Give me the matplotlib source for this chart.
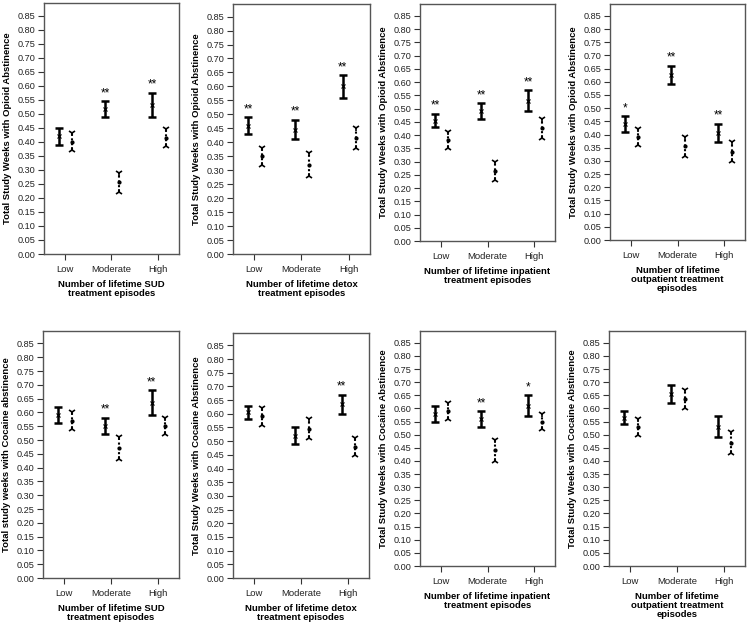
import numpy as np
import matplotlib.pyplot as plt

plt.rcParams['font.family'] = ['Liberation Sans', 'DejaVu Sans']

levels = ['Low', 'Moderate', 'High']

# (lower, upper) CI bounds; g1 = solid bars, g2 = dotted bars
op_sud_g1 = [(0.39, 0.45), (0.49, 0.545), (0.49, 0.575)]
op_sud_g2 = [(0.37, 0.43), (0.22, 0.29), (0.385, 0.445)]
op_sud_sig = ['', '**', '**']

op_detox_g1 = [(0.43, 0.49), (0.41, 0.48), (0.56, 0.64)]
op_detox_g2 = [(0.32, 0.38), (0.28, 0.36), (0.38, 0.45)]
op_detox_sig = ['**', '**', '**']

op_inpat_g1 = [(0.43, 0.48), (0.46, 0.52), (0.49, 0.57)]
op_inpat_g2 = [(0.35, 0.41), (0.23, 0.30), (0.39, 0.46)]
op_inpat_sig = ['**', '**', '**']

op_outpat_g1 = [(0.41, 0.47), (0.59, 0.66), (0.37, 0.44)]
op_outpat_g2 = [(0.36, 0.42), (0.32, 0.39), (0.30, 0.37)]
op_outpat_sig = ['*', '**', '**']

co_sud_g1 = [(0.56, 0.62), (0.52, 0.58), (0.59, 0.68)]
co_sud_g2 = [(0.54, 0.60), (0.43, 0.51), (0.52, 0.58)]
co_sud_sig = ['', '**', '**']

co_detox_g1 = [(0.58, 0.63), (0.49, 0.55), (0.60, 0.67)]
co_detox_g2 = [(0.56, 0.62), (0.51, 0.58), (0.45, 0.51)]
co_detox_sig = ['', '', '**']

co_inpat_g1 = [(0.55, 0.61), (0.53, 0.59), (0.57, 0.65)]
co_inpat_g2 = [(0.56, 0.62), (0.40, 0.48), (0.52, 0.58)]
co_inpat_sig = ['', '**', '*']

co_outpat_g1 = [(0.54, 0.59), (0.62, 0.69), (0.49, 0.57)]
co_outpat_g2 = [(0.50, 0.56), (0.60, 0.67), (0.43, 0.51)]
co_outpat_sig = ['', '', '']

xlabels = ['Number of lifetime SUD\ntreatment episodes',
           'Number of lifetime detox\ntreatment episodes',
           'Number of lifetime inpatient\ntreatment episodes',
           'Number of lifetime\noutpatient treatment\nepisodes']
ylab_op = 'Total Study Weeks with Opioid Abstinence'
ylab_co_first = 'Total study weeks with Cocaine abstinence'
ylab_co = 'Total Study Weeks with Cocaine Abstinence'

panels = [
    (op_sud_g1, op_sud_g2, op_sud_sig, xlabels[0], ylab_op, (44, 3, 179, 254)),
    (op_detox_g1, op_detox_g2, op_detox_sig, xlabels[1], ylab_op, (233, 4, 370, 254)),
    (op_inpat_g1, op_inpat_g2, op_inpat_sig, xlabels[2], ylab_op, (420, 4, 555, 241)),
    (op_outpat_g1, op_outpat_g2, op_outpat_sig, xlabels[3], ylab_op, (610, 4, 745, 240)),
    (co_sud_g1, co_sud_g2, co_sud_sig, xlabels[0], ylab_co_first, (43, 331, 179, 578)),
    (co_detox_g1, co_detox_g2, co_detox_sig, xlabels[1], ylab_co, (233, 333, 369, 578)),
    (co_inpat_g1, co_inpat_g2, co_inpat_sig, xlabels[2], ylab_co, (420, 331, 555, 566)),
    (co_outpat_g1, co_outpat_g2, co_outpat_sig, xlabels[3], ylab_co, (609, 331, 745, 566)),
]

W, H = 750, 626
fig = plt.figure(figsize=(W / 100, H / 100), dpi=100)

x = np.arange(len(levels))
d1, d2 = -0.13, 0.16

for g1, g2, sig, xl, yl, (l, t, r, b) in panels:
    ax = fig.add_axes([l / W, 1 - b / H, (r - l) / W, (b - t) / H])

    lo, hi = np.array(g1).T
    mid = (lo + hi) / 2
    ax.errorbar(x + d1, mid, yerr=[mid - lo, hi - mid], fmt='none', ecolor='black',
                elinewidth=1.8, capsize=3, capthick=1.8)
    ax.plot(x + d1, mid, ls='none', marker='x', ms=2.5, mew=0.8, color='black')
    for xi, s, h in zip(x + d1, sig, hi):
        if s:
            ax.annotate(s, (xi, h), xytext=(0, 1.5), textcoords='offset points',
                        ha='center', va='bottom', fontsize=8.5)

    lo, hi = np.array(g2).T
    mid = (lo + hi) / 2
    ax.vlines(x + d2, lo, hi, colors='black', linestyles=(0, (1, 1.3)), lw=1.5)
    ax.plot(x + d2, hi, ls='none', marker='1', ms=5, mew=1.2, color='black')
    ax.plot(x + d2, lo, ls='none', marker='2', ms=5, mew=1.2, color='black')
    ax.plot(x + d2, mid, ls='none', marker='o', ms=2, color='black')

    ax.set_xlim(-0.45, 2.45)
    ax.set_ylim(0, 0.895)
    yt = np.arange(0, 0.851, 0.05)
    ax.set_yticks(yt)
    ax.set_yticklabels(['%.2f' % v for v in yt], fontsize=6.6)
    ax.set_xticks(x)
    ax.set_xticklabels(levels, fontsize=6.8)
    ax.tick_params(axis='both', direction='out', length=4, width=0.8, colors='#333333',
                   labelcolor='#222222', pad=2)
    ax.tick_params(axis='x', pad=4)
    for sp in ax.spines.values():
        sp.set_color('#555555')
        sp.set_linewidth(1.0)
    ax.set_xlabel(xl, fontsize=6.8, fontweight='bold', labelpad=4, linespacing=1.0)
    ax.set_ylabel(yl, fontsize=6.8, fontweight='bold', labelpad=4)

fig.savefig('out.png', dpi=100)
